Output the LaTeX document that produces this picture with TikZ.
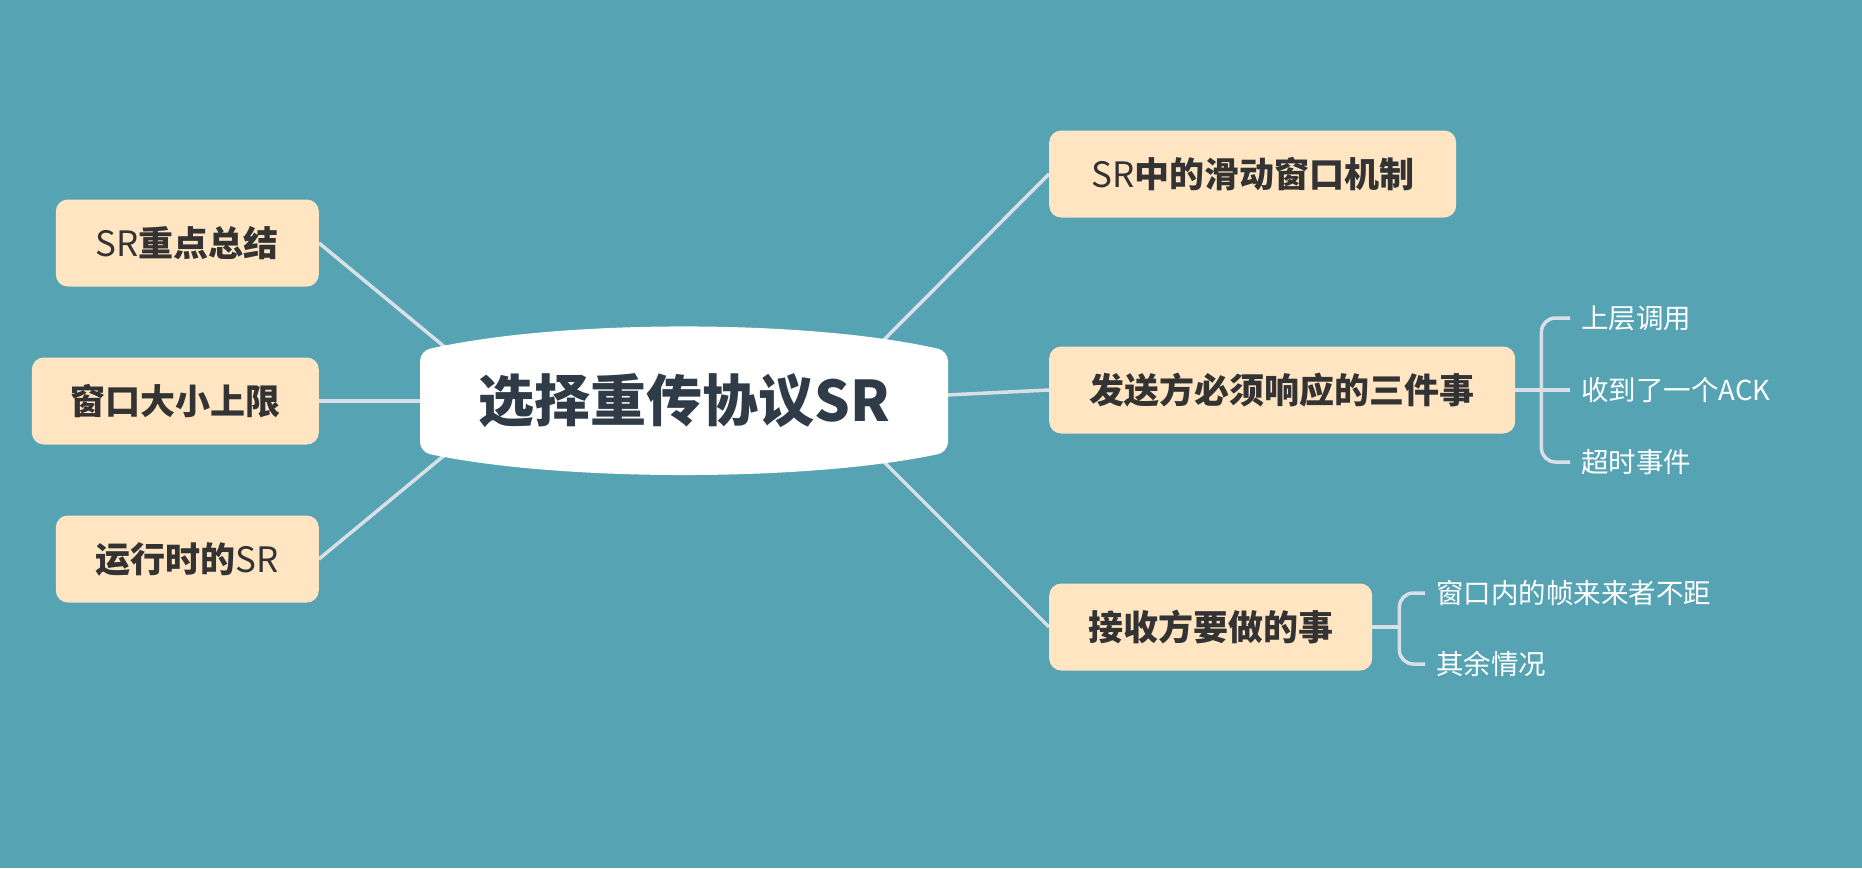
\documentclass[tikz,border=0pt]{standalone}
\usepackage{fontspec}
\setmainfont{Noto Sans CJK SC}
\usetikzlibrary{backgrounds}
\definecolor{bgteal}{HTML}{56A3B3}
\definecolor{topicfill}{HTML}{FFE5C2}
\definecolor{topictext}{HTML}{333333}
\definecolor{roottext}{HTML}{2F3B47}
\definecolor{linkgray}{HTML}{D8DFE7}
\newcommand{\lat}[1]{{\mdseries #1}}

\begin{document}
\begin{tikzpicture}[x=1pt, y=-1pt]
	\tikzstyle{topic} = [fill=topicfill, text=topictext, rounded corners=12pt, minimum height=87pt, inner xsep=0pt, font={\fontsize{35}{40}\selectfont\bfseries}];
	\tikzstyle{leaf} = [text=white, inner xsep=11pt, inner ysep=0pt, font={\fontsize{27.5}{32}\selectfont}];
	\tikzstyle{link} = [draw=linkgray, line width=3.5pt];
	\tikzstyle{brace} = [link, rounded corners=14pt];

	\useasboundingbox (0,0) rectangle (1862,868);

	% central topic
	\fill[white, rounded corners=10pt] (420,401) -- (420,351) .. controls (560,319) and (808,319) .. (948,351) -- (948,452) .. controls (808,482) and (560,482) .. (420,452) -- cycle;
	\node[text=roottext, font={\fontsize{56}{64}\selectfont\bfseries}] (root) at (684,401) {选择重传协议SR};
	\coordinate (rootL) at (510,401);
	\coordinate (rootR) at (823,401);

	% left topics
	\node[topic, anchor=east, minimum width=263pt] (summary) at (319,243) {\lat{SR}重点总结};
	\node[topic, anchor=east, minimum width=287pt] (winsize) at (319,401) {窗口大小上限};
	\node[topic, anchor=east, minimum width=263pt] (running) at (319,559) {运行时的\lat{SR}};

	% right topics
	\node[topic, anchor=west, minimum width=407pt] (sliding) at (1049,174) {\lat{SR}中的滑动窗口机制};
	\node[topic, anchor=west, minimum width=466pt] (send) at (1049,390) {发送方必须响应的三件事};
	\node[topic, anchor=west, minimum width=323pt] (recv) at (1049,627) {接收方要做的事};

	% details
	\node[leaf, anchor=west] (upper) at (1570,318) {上层调用};
	\node[leaf, anchor=west] (gotack) at (1570,390) {收到了一个ACK};
	\node[leaf, anchor=west] (timeout) at (1570,462) {超时事件};
	\node[leaf, anchor=west] (inwin) at (1425,593) {窗口内的帧来来者不距};
	\node[leaf, anchor=west] (others) at (1425,664) {其余情况};
	\coordinate (sendfork) at ([xshift=26pt]send.east);
	\coordinate (recvfork) at ([xshift=27pt]recv.east);

	\begin{scope}[on background layer]
		\fill[bgteal] (0,0) rectangle (1862,868);
		\foreach \t in {summary, winsize, running}
			\draw[link] (rootL) -- (\t.east);
		\foreach \t in {sliding, send, recv}
			\draw[link] (rootR) -- (\t.west);
	\end{scope}

	\draw[link] (send.east) -- (sendfork);
	\draw[brace] (sendfork) |- (upper.west);
	\draw[link] (sendfork) -- (gotack.west);
	\draw[brace] (sendfork) |- (timeout.west);
	\draw[link] (recv.east) -- (recvfork);
	\draw[brace] (recvfork) |- (inwin.west);
	\draw[brace] (recvfork) |- (others.west);
\end{tikzpicture}
\end{document}
